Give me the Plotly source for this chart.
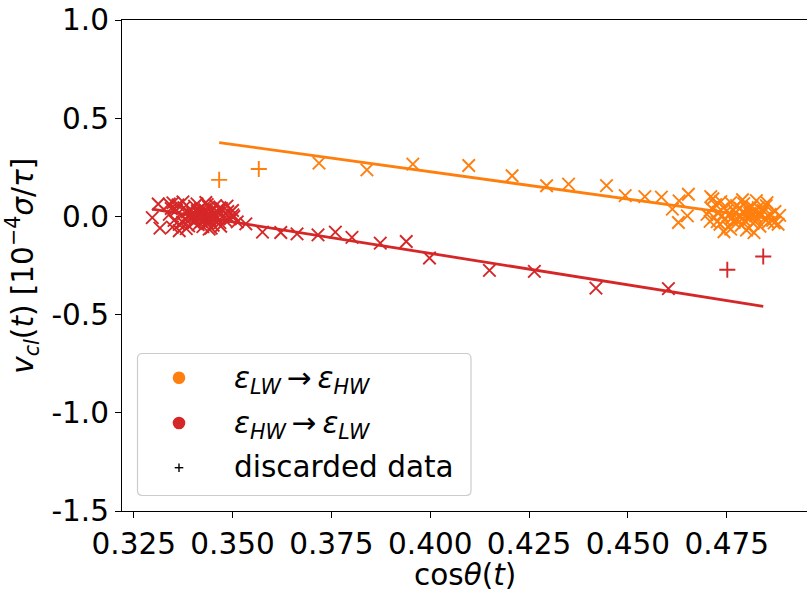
import plotly.graph_objects as go

# ---------------- data ----------------
# epsilon_LW -> epsilon_HW (orange), kept data
lw_hw_x = [0.37187, 0.38399, 0.39561, 0.40975, 0.42071, 0.42944, 0.43500, 0.44459,
           0.44932, 0.45429, 0.45848, 0.46295, 0.46530, 0.46126, 0.46278, 0.46505, 0.47096,
           0.4700, 0.4708, 0.4712, 0.4718, 0.4722, 0.4728, 0.4733, 0.4738, 0.4742, 0.4745,
           0.4750, 0.4753, 0.4757, 0.4760, 0.4763, 0.4766, 0.4769, 0.4772, 0.4775, 0.4778,
           0.4781, 0.4784, 0.4787, 0.4790, 0.4793, 0.4796, 0.4799, 0.4802, 0.4805, 0.4808,
           0.4811, 0.4814, 0.4817, 0.4820, 0.4823, 0.4826, 0.4830, 0.4834, 0.4838, 0.4842,
           0.4846, 0.4850, 0.4855, 0.4860, 0.4866, 0.4872, 0.4880, 0.4884, 0.4743, 0.4819,
           0.4870, 0.4726, 0.4735, 0.4790, 0.4825, 0.4760, 0.4800, 0.4852, 0.4715]
lw_hw_y = [0.271, 0.237, 0.266, 0.259, 0.207, 0.156, 0.164, 0.157,
           0.106, 0.101, 0.098, 0.079, 0.113, 0.037, -0.031, 0.003, 0.101,
           0.010, -0.025, 0.040, -0.005, 0.060, 0.020, -0.040, 0.005, 0.045, -0.018,
           0.028, -0.052, 0.012, 0.070, -0.008, 0.035, -0.030, 0.018, 0.055, -0.015,
           0.000, 0.042, -0.045, 0.022, 0.065, -0.022, 0.008, 0.038, -0.060, 0.015,
           -0.005, 0.050, -0.035, 0.025, 0.002, -0.018, 0.045, -0.050, 0.012, 0.030,
           -0.010, 0.055, -0.030, 0.010, -0.020, 0.025, -0.040, 0.005, -0.078, -0.083,
           -0.033, -0.027, 0.075, 0.085, 0.080, -0.065, -0.070, 0.070, 0.090]

# epsilon_HW -> epsilon_LW (red), kept data
hw_lw_x = [0.32970, 0.33164, 0.33121, 0.33399, 0.33652, 0.34409, 0.34326, 0.35033,
           0.35336, 0.35758, 0.36220, 0.36631, 0.37162, 0.37601, 0.38020, 0.38737,
           0.39394, 0.39982, 0.41498, 0.42634, 0.44192, 0.46025,
           0.33745, 0.34679, 0.35008, 0.33492,
           0.3340, 0.3352, 0.3358, 0.3365, 0.3371, 0.3377, 0.3380, 0.3386, 0.3389, 0.3393,
           0.3396, 0.3399, 0.3402, 0.3404, 0.3407, 0.3409, 0.3411, 0.3413, 0.3415, 0.3417,
           0.3419, 0.3421, 0.3423, 0.3425, 0.3427, 0.3430, 0.3432, 0.3434, 0.3437, 0.3440,
           0.3442, 0.3445, 0.3448, 0.3451, 0.3454, 0.3457, 0.3460, 0.3464, 0.3468, 0.3472,
           0.3477, 0.3482, 0.3488, 0.3494, 0.3362, 0.3348, 0.3383, 0.3410, 0.3436, 0.3446,
           0.3470, 0.3486, 0.3500, 0.3512, 0.3345, 0.3374, 0.3400, 0.3420, 0.3438, 0.3458]
hw_lw_y = [-0.006, -0.060, 0.063, 0.063, -0.073, -0.065, 0.071, -0.001,
           -0.038, -0.080, -0.082, -0.089, -0.094, -0.080, -0.107, -0.136,
           -0.128, -0.212, -0.275, -0.280, -0.365, -0.368,
           0.074, 0.044, 0.008, 0.069,
           0.010, -0.020, 0.032, -0.041, 0.005, 0.045, -0.012, 0.022, -0.048, 0.038,
           -0.005, 0.015, -0.030, 0.052, 0.002, -0.018, 0.028, -0.042, 0.010, -0.008,
           0.040, -0.025, 0.018, -0.052, 0.006, 0.034, -0.014, 0.024, -0.036, 0.048,
           0.000, -0.022, 0.030, -0.045, 0.012, 0.055, -0.010, 0.020, -0.032, 0.040,
           0.004, -0.020, 0.025, -0.012, 0.058, -0.055, -0.062, 0.064, 0.060, -0.060,
           -0.050, 0.052, 0.030, -0.028, 0.040, -0.030, 0.000, 0.005, 0.012, 0.000]

# discarded data
lw_hw_disc_x = [0.34662, 0.35664]
lw_hw_disc_y = [0.186, 0.241]
hw_lw_disc_x = [0.47515, 0.48424]
hw_lw_disc_y = [-0.272, -0.204]

# linear fits (end points)
lw_hw_fit_x = [0.34662, 0.48750]
lw_hw_fit_y = [0.376, -0.016]
hw_lw_fit_x = [0.32970, 0.48424]
hw_lw_fit_y = [0.037, -0.458]

x_ticks = [0.325, 0.350, 0.375, 0.400, 0.425, 0.450, 0.475]
x_tick_labels = ["0.325", "0.350", "0.375", "0.400", "0.425", "0.450", "0.475"]
y_ticks = [1.0, 0.5, 0.0, -0.5, -1.0, -1.5]
y_tick_labels = ["1.0", "0.5", "0.0", "-0.5", "-1.0", "-1.5"]

legend_labels = ["<i>ε</i><sub><i>LW</i></sub>\u2009→\u2009<i>ε</i><sub><i>HW</i></sub>",
                 "<i>ε</i><sub><i>HW</i></sub>\u2009→\u2009<i>ε</i><sub><i>LW</i></sub>",
                 "discarded data"]

ORANGE = "#ff7f0e"
RED = "#d62728"
FONT = "DejaVu Sans"
FS = 29.5

W, H = 807, 595
ML, MR, MT, MB = 122, 0, 20, 84
PW, PH = W - ML - MR, H - MT - MB


def px(x):
    return (x - ML) / PW


def py(y):
    return (H - MB - y) / PH


fig = go.Figure()

def xmark(x, y, color, symbol, size):
    fig.add_trace(go.Scatter(
        x=x, y=y, mode="markers", showlegend=False, hoverinfo="skip",
        marker=dict(symbol=symbol, size=size, color=color,
                    line=dict(color=color, width=1.9))))

xmark(lw_hw_x, lw_hw_y, ORANGE, "x-thin", 12.5)
xmark(lw_hw_disc_x, lw_hw_disc_y, ORANGE, "cross-thin", 11.5)
xmark(hw_lw_x, hw_lw_y, RED, "x-thin", 12.5)
xmark(hw_lw_disc_x, hw_lw_disc_y, RED, "cross-thin", 11.5)

fig.add_trace(go.Scatter(x=lw_hw_fit_x, y=lw_hw_fit_y, mode="lines", showlegend=False,
                         line=dict(color=ORANGE, width=2.8), hoverinfo="skip"))
fig.add_trace(go.Scatter(x=hw_lw_fit_x, y=hw_lw_fit_y, mode="lines", showlegend=False,
                         line=dict(color=RED, width=2.8), hoverinfo="skip"))

# ---------- manual legend ----------
lx0, lx1, ly0, ly1, r = 137.5, 471, 353.5, 495.5, 5
rx, ry = r / PW, r / PH
X0, X1, Y0, Y1 = px(lx0), px(lx1), py(ly1), py(ly0)
path = (f"M{X0+rx},{Y0} L{X1-rx},{Y0} Q{X1},{Y0} {X1},{Y0+ry} "
        f"L{X1},{Y1-ry} Q{X1},{Y1} {X1-rx},{Y1} L{X0+rx},{Y1} Q{X0},{Y1} {X0},{Y1-ry} "
        f"L{X0},{Y0+ry} Q{X0},{Y0} {X0+rx},{Y0} Z")
shapes = [dict(type="path", path=path, xref="paper", yref="paper",
               line=dict(color="#cccccc", width=1.2), fillcolor="rgba(255,255,255,0.8)",
               layer="above")]
item_y = [377.7, 423.0, 467.7]
sym_x = 179
for yy, col in zip(item_y[:2], [ORANGE, RED]):
    shapes.append(dict(type="circle", xref="paper", yref="paper",
                       xsizemode="pixel", ysizemode="pixel",
                       xanchor=px(sym_x), yanchor=py(yy),
                       x0=-6.3, x1=6.3, y0=-6.3, y1=6.3,
                       fillcolor=col, line=dict(width=0), layer="above"))
for (a0, a1, b0, b1) in [(-4.3, 4.3, 0, 0), (0, 0, -4.3, 4.3)]:
    shapes.append(dict(type="line", xref="paper", yref="paper",
                       xsizemode="pixel", ysizemode="pixel",
                       xanchor=px(sym_x), yanchor=py(item_y[2]),
                       x0=a0, x1=a1, y0=b0, y1=b1,
                       line=dict(color="black", width=1.4), layer="above"))

annotations = []
text_y = [380, 425, 466.5]
for lab, yy in zip(legend_labels, text_y):
    annotations.append(dict(text=lab, x=px(232), y=py(yy), xref="paper", yref="paper",
                            xanchor="left", yanchor="middle", showarrow=False,
                            font=dict(family=FONT, size=FS, color="black")))

# axis titles
annotations.append(dict(text="cos<i>θ</i>(<i>t</i>)", x=px(465), y=py(575),
                        xref="paper", yref="paper", xanchor="center", yanchor="middle",
                        showarrow=False, font=dict(family=FONT, size=FS, color="black")))
annotations.append(dict(text="<i>v</i><sub><i>cl</i></sub>(<i>t</i>) [10<sup>−4</sup><i>σ</i>/<i>τ</i>]",
                        x=px(23), y=py(265.7), xref="paper", yref="paper",
                        xanchor="center", yanchor="middle", textangle=-90,
                        showarrow=False, font=dict(family=FONT, size=FS, color="black")))

fig.update_layout(
    width=W, height=H,
    margin=dict(l=ML, r=MR, t=MT, b=MB, pad=0),
    paper_bgcolor="white", plot_bgcolor="white",
    shapes=shapes, annotations=annotations,
    font=dict(family=FONT, size=FS, color="black"),
)
fig.update_xaxes(range=[0.32204, 0.49531], tickvals=x_ticks, ticktext=x_tick_labels,
                 showgrid=False, zeroline=False, showline=True, linecolor="black",
                 linewidth=1.3, mirror=True, ticks="outside", ticklen=6, tickwidth=1.3,
                 tickcolor="black", tickfont=dict(family=FONT, size=FS, color="black"))
fig.update_yaxes(range=[-1.5, 1.0], tickvals=y_ticks, ticktext=y_tick_labels,
                 showgrid=False, zeroline=False, showline=True, linecolor="black",
                 linewidth=1.3, mirror=False, ticks="outside", ticklen=6, tickwidth=1.3,
                 tickcolor="black", tickfont=dict(family=FONT, size=FS, color="black"))

fig.write_html("out.html")
